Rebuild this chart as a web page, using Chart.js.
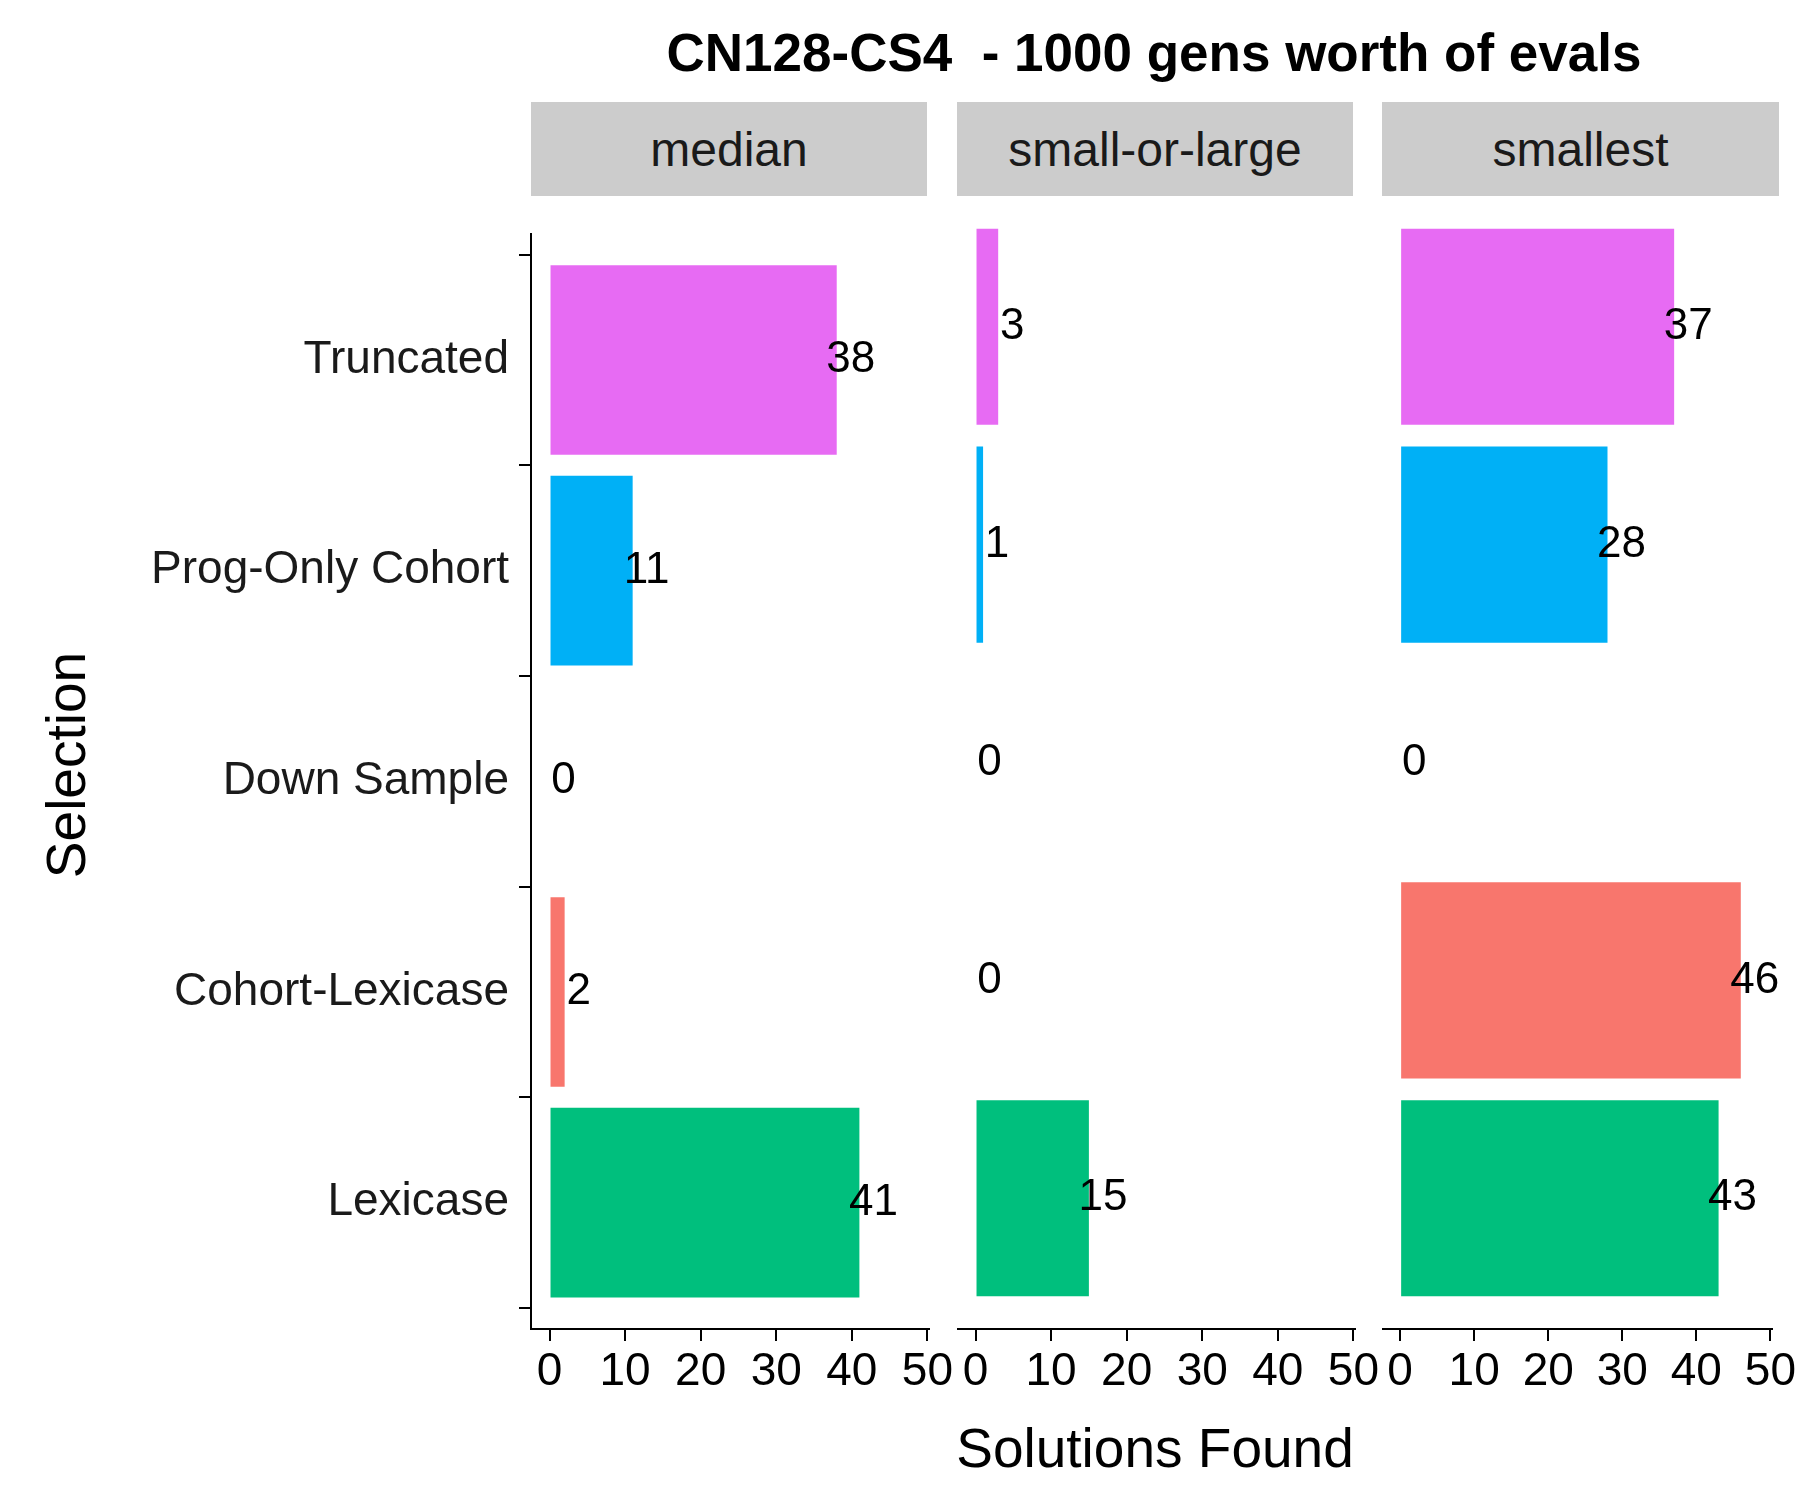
<!DOCTYPE html>
<html><head><meta charset="utf-8">
<script src="https://cdn.jsdelivr.net/npm/chart.js@4"></script>
<style>
body{margin:0;width:1800px;height:1500px;background:#fff;font-family:"Liberation Sans",Arial,sans-serif;position:relative;overflow:hidden}
.abs{position:absolute}
.strip{position:absolute;top:102px;height:94px;background:#cccccc;color:#1a1a1a;font-size:48px;display:flex;align-items:center;justify-content:center}
</style></head><body>
<div class="abs" style="left:0;width:2308px;top:22px;text-align:center;font-size:53px;font-weight:bold;white-space:pre">CN128-CS4  - 1000 gens worth of evals</div>
<div class="strip" style="left:531px;width:396px">median</div>
<div class="strip" style="left:957px;width:396px">small-or-large</div>
<div class="strip" style="left:1382px;width:397px">smallest</div>
<div class="abs" style="left:855px;width:600px;top:1416px;text-align:center;font-size:55px;white-space:nowrap">Solutions Found</div>
<div class="abs" style="left:-234px;width:600px;top:733px;text-align:center;font-size:55px;white-space:nowrap;transform:rotate(-90deg)">Selection</div>
<div class="abs" style="left:0;top:196px;width:957px;height:1247px"><canvas id="c0"></canvas></div>
<div class="abs" style="left:957px;top:196px;width:426px;height:1247px"><canvas id="c1"></canvas></div>
<div class="abs" style="left:1382px;top:196px;width:418px;height:1247px"><canvas id="c2"></canvas></div>
<script>
const categories=["Truncated","Prog-Only Cohort","Down Sample","Cohort-Lexicase","Lexicase"];
const colors=["#E76BF3","#00B0F6","#A3A500","#F8766D","#00BF7D"];
const panels=["median","small-or-large","smallest"];
const medianVals=[38,11,0,2,41];
const smallOrLargeVals=[3,1,0,0,15];
const smallestVals=[37,28,0,46,43];
const xTicks=[0,10,20,30,40,50];
const allVals=[medianVals,smallOrLargeVals,smallestVals];
const F='"Liberation Sans", Arial, sans-serif';
const labelPlugin={id:'lbl',afterDatasetsDraw(ch){
  const ctx=ch.ctx,a=ch.chartArea,meta=ch.getDatasetMeta(0),xs=ch.scales.x;
  const right=ch.canvas.id==='c0'?927:(ch.canvas.id==='c1'?396:397);
  ctx.save();ctx.beginPath();ctx.rect(a.left,a.top,right-a.left,a.bottom-a.top);ctx.clip();
  ctx.font='44px '+F;ctx.fillStyle='#000';ctx.textBaseline='middle';ctx.textAlign='center';
  ch.data.datasets[0].data.forEach((p,i)=>{ctx.fillText(String(p.x),xs.getPixelForValue(p.x)+14,meta.data[i].y);});
  ctx.restore();}};
allVals.forEach((vals,k)=>{
  new Chart(document.getElementById('c'+k),{type:'bar',
    data:{datasets:[{data:vals.map((v,i)=>({x:v,y:i})),backgroundColor:colors,barPercentage:0.9,categoryPercentage:1}]},
    options:{indexAxis:'y',responsive:true,maintainAspectRatio:false,animation:false,
      layout:{padding:0},
      plugins:{legend:{display:false},tooltip:{enabled:false}},
      scales:{
        x:{type:'linear',min:-2.45,max:50.15,afterBuildTicks(s){s.ticks=xTicks.map(v=>({value:v}));},
           afterFit(s){s.height=114;},
           grid:{drawOnChartArea:false,tickLength:12,color:'#000',lineWidth:2},
           border:{display:true,color:'#000',width:2},
           ticks:{color:'#000',font:{size:46,family:F},padding:4,maxRotation:0,autoSkip:false}},
        y:{type:'linear',reverse:true,min:-0.6,max:4.6,display:k===0,offset:false,
           afterBuildTicks(s){s.ticks=categories.map((c,i)=>({value:i}));},
           afterFit(s){if(k===0)s.width=531;},
           grid:{drawOnChartArea:false,tickLength:12,color:'#000',lineWidth:2},
           border:{display:true,color:'#000',width:2},
           ticks:{color:'#1a1a1a',font:{size:46,family:F},padding:10,autoSkip:false,callback:(v)=>categories[v]},
           title:{display:false}}
      }},
    plugins:[labelPlugin]});
});
</script></body></html>
